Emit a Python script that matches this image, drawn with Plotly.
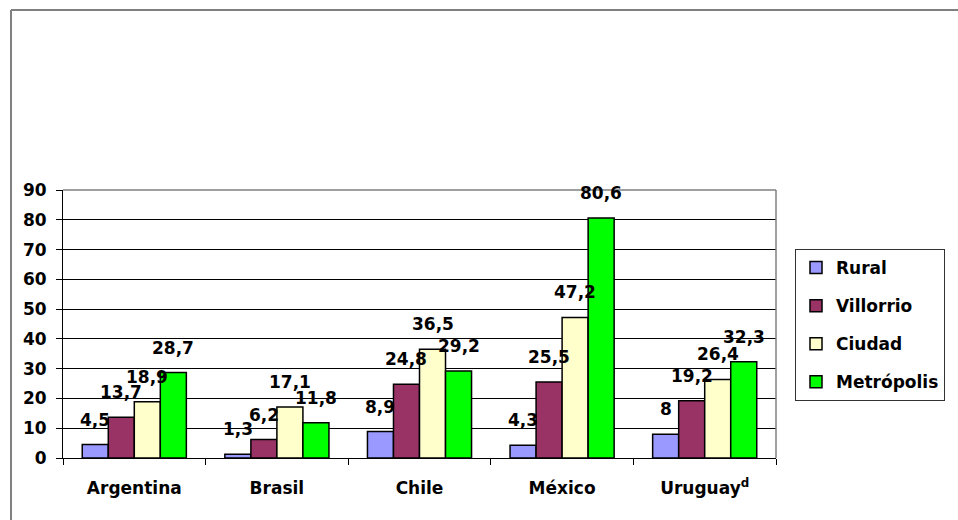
import plotly.graph_objects as go

# Población por tipo de localidad (%), por país
paises = ["Argentina", "Brasil", "Chile", "México", "Uruguay<sup>d</sup>"]
rural = [4.5, 1.3, 8.9, 4.3, 8]
villorrio = [13.7, 6.2, 24.8, 25.5, 19.2]
ciudad = [18.9, 17.1, 36.5, 47.2, 26.4]
metropolis = [28.7, 11.8, 29.2, 80.6, 32.3]

series_names = ["Rural", "Villorrio", "Ciudad", "Metrópolis"]
series_values = [rural, villorrio, ciudad, metropolis]
series_colors = ["#9999FF", "#993366", "#FFFFCC", "#00FF00"]

y_ticks = [0, 10, 20, 30, 40, 50, 60, 70, 80, 90]

W, H = 958, 520
ML, MR, MT, MB = 63, 182, 190, 62
BARGAP = 0.27
PW = W - ML - MR
PH = H - MT - MB

FONT = dict(family="DejaVu Sans, Arial, sans-serif", size=17, color="black", weight="bold")


def px_x(px):
    return (px - ML) / PW


def px_y(py):
    return (H - MB - py) / PH


def fmt(v):
    return format(v, "g").replace(".", ",")


fig = go.Figure()
for name, vals, col in zip(series_names, series_values, series_colors):
    fig.add_trace(go.Bar(
        name=name, x=paises, y=vals, legendgroup=name,
        marker=dict(color=col, line=dict(color="black", width=1.5)),
    ))

# value labels above each bar
n = len(series_names)
cat_w = PW / len(paises)
bar_w = cat_w * (1 - BARGAP) / n
annotations = []
for i, vals in enumerate(series_values):
    for p, v in zip(paises, vals):
        annotations.append(dict(
            x=p, y=v, xref="x", yref="y", text=fmt(v), showarrow=False,
            xanchor="center", yanchor="bottom",
            xshift=(i - (n - 1) / 2) * bar_w, yshift=13, font=FONT,
        ))

shapes = [
    # outer frame (top and left edges)
    dict(type="line", xref="paper", yref="paper", x0=px_x(11), x1=px_x(960),
         y0=px_y(10), y1=px_y(10), line=dict(color="#808080", width=2)),
    dict(type="line", xref="paper", yref="paper", x0=px_x(11), x1=px_x(11),
         y0=px_y(10), y1=px_y(522), line=dict(color="#808080", width=2)),
    # plot area border (top and right)
    dict(type="line", xref="paper", yref="paper", x0=0, x1=1, y0=1, y1=1,
         line=dict(color="#808080", width=1.5), layer="above"),
    dict(type="line", xref="paper", yref="paper", x0=1, x1=1, y0=0, y1=1,
         line=dict(color="#808080", width=1.5), layer="above"),
]

fig.update_layout(
    width=W, height=H,
    margin=dict(l=ML, r=MR, t=MT, b=MB, pad=0),
    paper_bgcolor="white", plot_bgcolor="white",
    barmode="group", bargap=BARGAP, bargroupgap=0,
    font=FONT,
    showlegend=True,
    legend=dict(
        x=px_x(795), y=px_y(249), xanchor="left", yanchor="top",
        bordercolor="#333333", borderwidth=1, bgcolor="white",
        font=FONT, tracegroupgap=13, traceorder="grouped",
    ),
    annotations=annotations,
    shapes=shapes,
)
fig.update_xaxes(
    type="category", tickson="boundaries", ticks="outside", ticklen=6,
    tickcolor="black", showline=True, linecolor="black", linewidth=1,
    tickfont=FONT, ticklabelstandoff=15, showgrid=False,
)
fig.update_yaxes(
    range=[0, 90], tickvals=y_ticks, ticks="outside", ticklen=6,
    tickcolor="black", showline=True, linecolor="black", linewidth=1,
    showgrid=True, gridcolor="black", gridwidth=1, tickfont=FONT,
    zeroline=False, ticklabelstandoff=6,
)

fig.write_html("out.html")
